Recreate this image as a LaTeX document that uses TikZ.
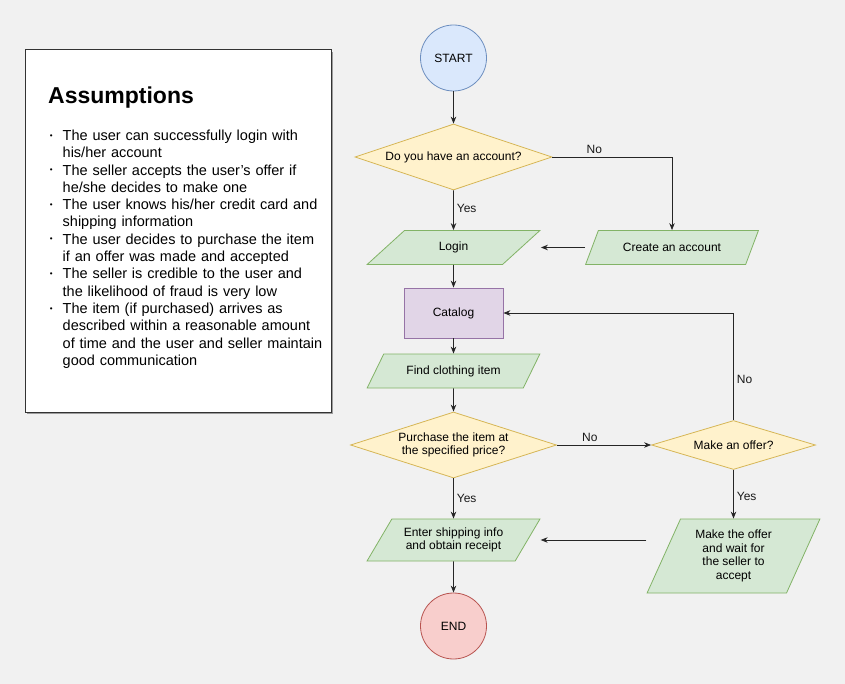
\documentclass[tikz,border=0pt]{standalone}
\usepackage{fontspec}
\setmainfont{Liberation Sans}
\usepackage{enumitem}
\usetikzlibrary{shapes.geometric, arrows.meta, shadows}

\definecolor{startFill}{HTML}{DAE8FC}
\definecolor{startLine}{HTML}{6C8EBF}
\definecolor{endFill}{HTML}{F8CECC}
\definecolor{endLine}{HTML}{B85450}
\definecolor{decFill}{HTML}{FFF2CC}
\definecolor{decLine}{HTML}{D6B656}
\definecolor{ioFill}{HTML}{D5E8D4}
\definecolor{ioLine}{HTML}{82B366}
\definecolor{procFill}{HTML}{E1D5E7}
\definecolor{procLine}{HTML}{9673A6}
\definecolor{pageBg}{HTML}{F1F1F1}

\begin{document}
\begin{tikzpicture}[
            x=1pt, y=-1pt,
            font=\fontsize{12}{13.5}\selectfont,
            terminalNode/.style={circle, draw=startLine, fill=startFill, line width=0.8pt,
            minimum size=66pt, inner sep=0pt},
            decisionNode/.style={diamond, draw=decLine, fill=decFill, line width=0.8pt,
            aspect=3, inner sep=0pt, align=center},
            ioNode/.style={trapezium, trapezium stretches=true, draw=ioLine, fill=ioFill,
            line width=0.8pt, minimum width=173pt, minimum height=34pt, inner sep=0pt,
            trapezium left angle=45, trapezium right angle=135, align=center},
            processNode/.style={rectangle, draw=procLine, fill=procFill, line width=0.8pt,
            minimum width=99pt, minimum height=50pt},
            arrow/.style={line width=0.8pt, draw=black!85, ->, >={Stealth[length=7pt, width=5.5pt]}},
            edgeLabel/.style={inner sep=3pt, text=black!90},
            noteBox/.style={rectangle, draw=black!80, fill=white, line width=1pt,
            minimum width=306pt, minimum height=362pt,
            drop shadow={shadow xshift=2pt, shadow yshift=-2pt, opacity=0.35, fill=black}},
            noteList/.style={anchor=north west, inner sep=0pt, text width=290pt, align=left,
            font=\fontsize{14.5}{17.3}\selectfont},
        ]
        \useasboundingbox[fill=pageBg] (0,0) rectangle (845,684);

        % assumptions panel
        \node[noteBox] (assumeBox) at (178,231) {};
        \node[anchor=base west, inner sep=0pt, font=\fontsize{23}{27}\selectfont\bfseries] (assumeTitle) at (48,103.3) {Assumptions};
        \node[noteList] (assumeList) at (49,123) {%
            \begin{itemize}[leftmargin=13.5pt, labelsep=10pt, itemsep=0pt, parsep=0pt, topsep=0pt, partopsep=0pt,
                label={\raisebox{0.3ex}{\scalebox{0.55}{\textbullet}}}]
            \item The user can successfully login with\newline his/her account
            \item The seller accepts the user's offer if\newline he/she decides to make one
            \item The user knows his/her credit card and\newline shipping information
            \item The user decides to purchase the item\newline if an offer was made and accepted
            \item The seller is credible to the user and\newline the likelihood of fraud is very low
            \item The item (if purchased) arrives as\newline described within a reasonable amount\newline of time and the user and seller maintain\newline good communication
            \end{itemize}};

        % flowchart
        \node[terminalNode] (start) at (453.5,58) {START};
            \path (start) ++(0,99) node[decisionNode, minimum width=197pt, minimum height=66pt] (hasAccount) {Do you have an account?};
            \path (hasAccount) ++(0,90.5) node[ioNode] (login) {Login};
            \path (login) ++(218.5,0) node[ioNode] (createAcc) {Create an account};
            \path (login) ++(0,65.5) node[processNode] (catalog) {Catalog};
            \path (catalog) ++(0,58) node[ioNode] (findItem) {Find clothing item};
            \path (findItem) ++(0,74) node[decisionNode, minimum width=206pt, minimum height=66pt] (buyNow) {Purchase the item at\\the specified price?};
            \path (buyNow) ++(280,0) node[decisionNode, minimum width=164pt, minimum height=49pt] (offerQ) {Make an offer?};
            \path (buyNow) ++(0,95) node[ioNode, minimum height=42pt, trapezium left angle=51, trapezium right angle=129] (shipping) {Enter shipping info\\and obtain receipt};
            \path (offerQ) ++(0,111) node[ioNode, minimum height=74pt, trapezium left angle=65, trapezium right angle=115] (makeOffer) {Make the offer\\and wait for\\the seller to\\accept};
            \path (shipping) ++(0,86) node[terminalNode, draw=endLine, fill=endFill] (finish) {END};

        \draw[arrow] (start) -- (hasAccount);
        \draw[arrow] (hasAccount) -- node[edgeLabel, right, pos=0.45] (yesLogin) {Yes} (login);
        \draw[arrow] (hasAccount.east) -| node[edgeLabel, above, pos=0.175] (noAccount) {No} (createAcc.north);
        \draw[arrow] (createAcc.bottom left corner |- createAcc.center) -- (login.top right corner |- login.center);
        \draw[arrow] (login) -- (catalog);
        \draw[arrow] (catalog) -- (findItem);
        \draw[arrow] (findItem) -- (buyNow);
        \draw[arrow] (buyNow) -- node[edgeLabel, right, pos=0.5] (yesBuy) {Yes} (shipping);
        \draw[arrow] (buyNow.east) -- node[edgeLabel, above, pos=0.35] (noBuy) {No} (offerQ.west);
        \draw[arrow] (offerQ.north) |- node[edgeLabel, right, pos=0.19] (noOffer) {No} (catalog.east);
        \draw[arrow] (offerQ) -- node[edgeLabel, right, pos=0.55] (yesOffer) {Yes} (makeOffer);
        \draw[arrow] (makeOffer.bottom left corner |- shipping.center) -- (shipping.top right corner |- shipping.center);
        \draw[arrow] (shipping) -- (finish);
    \end{tikzpicture}
\end{document}
